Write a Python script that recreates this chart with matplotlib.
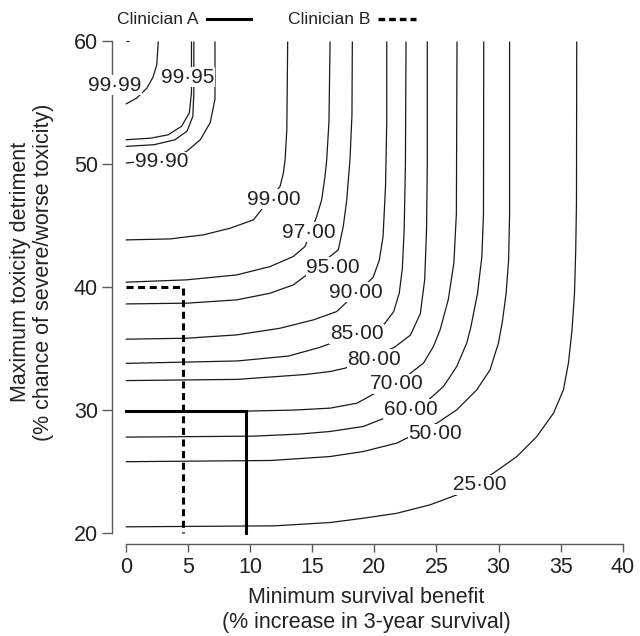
import matplotlib
matplotlib.use("Agg")
import matplotlib.pyplot as plt
from matplotlib.lines import Line2D

plt.rcParams["font.family"] = ["Liberation Sans", "DejaVu Sans"]

# contour lines (x = min survival benefit, y = max toxicity)
c2500_x = [0, 12, 16.44, 19.12, 21.8, 24.48, 26.63, 29.58, 31.46, 33.07, 34.41, 35.21, 35.61, 35.9, 36.1, 36.2, 36.26, 36.28]
c2500_y = [20.5, 20.58, 20.85, 21.2, 21.6, 22.29, 23.1, 24.87, 26.22, 27.85, 29.75, 31.65, 33.82, 36.5, 39.5, 43, 47, 60]
c5000_x = [0, 11.7, 16.44, 19.12, 21.8, 25.02, 26.63, 28.24, 29.31, 29.98, 30.3, 30.6, 30.8, 30.88, 30.88]
c5000_y = [25.8, 25.9, 26.22, 26.63, 27.31, 28.93, 30.02, 31.65, 33.28, 35.45, 37.2, 39.5, 42.2, 46, 60]
c6000_x = [0, 10.3, 14.0, 16.44, 19.12, 24.22, 25.56, 26.63, 27.43, 27.75, 28.3, 28.65, 28.78, 28.8]
c6000_y = [27.8, 27.88, 28.05, 28.26, 28.67, 30.7, 31.92, 33.55, 35.45, 36.7, 39.5, 42.5, 46, 60]
c7000_x = [0, 9.8, 13.5, 16.44, 18.6, 22.74, 23.95, 24.75, 25.29, 25.95, 26.4, 26.6, 26.65]
c7000_y = [29.86, 29.92, 30.0, 30.16, 30.56, 32.87, 33.82, 35.17, 36.53, 39.0, 42, 46, 60]
c8000_x = [0, 9, 14.5, 16.44, 17.65, 21.6, 22.9, 23.7, 24.05, 24.2, 24.26, 24.26]
c8000_y = [32.4, 32.5, 32.9, 33.14, 33.41, 35.1, 36.1, 37.85, 40.6, 44.7, 50, 60]
c8500_x = [0, 9, 13.1, 15.6, 20.8, 21.55, 22.0, 22.25, 22.4, 22.5, 22.55]
c8500_y = [33.8, 34.0, 34.4, 35.1, 37.0, 38.0, 39.5, 41.5, 44.7, 50, 60]
c9000_x = [0, 4.9, 8.93, 12.41, 15.09, 16.97, 19.9, 20.4, 20.7, 20.9, 21.0, 21.0]
c9000_y = [35.77, 35.85, 36.12, 36.66, 37.34, 38.02, 40.8, 42.2, 44.1, 48.2, 53.6, 60]
c9500_x = [0, 4.9, 8.93, 11.61, 13.48, 14.56, 17.1, 17.5, 17.78, 18.04, 18.2, 18.23]
c9500_y = [38.64, 38.7, 38.97, 39.51, 40.19, 41.0, 43.04, 44.94, 47.1, 50.36, 54, 60]
c9700_x = [0, 4.9, 8.93, 11.61, 13.48, 14.42, 15.36, 15.76, 16.03, 16.17, 16.35, 16.44]
c9700_y = [40.41, 40.6, 41.0, 41.68, 42.5, 43.31, 45.75, 47.1, 49.0, 50.36, 53.5, 60]
c9900_x = [0, 3.56, 6.25, 8.39, 10.27, 12.41, 12.68, 12.82, 12.96, 13.03]
c9900_y = [43.85, 43.93, 44.26, 44.8, 45.48, 48.19, 49.27, 50.36, 52.8, 60]
c9990_x = [0, 3.8, 4.9, 6.0, 6.8, 7.18, 7.18]
c9990_y = [50.1, 50.5, 51.06, 52.0, 53.4, 55.3, 60]
c9995a_x = [0, 2.0, 3.4, 4.5, 5.12, 5.29, 5.29]
c9995a_y = [52.0, 52.13, 52.4, 53.1, 54.2, 55.8, 60]
c9995b_x = [0, 2.3, 3.96, 4.93, 5.4, 5.48, 5.48]
c9995b_y = [51.46, 51.6, 52.0, 52.7, 53.9, 55.8, 60]
c9999_x = [0, 0.9, 1.7, 2.2, 2.5, 2.62]
c9999_y = [54.9, 55.4, 56.2, 57.1, 58.1, 60]
c9999_tip_x = [0.05, 0.3]
c9999_tip_y = [60, 60]

contours = [
    (c2500_x, c2500_y), (c5000_x, c5000_y), (c6000_x, c6000_y), (c7000_x, c7000_y),
    (c8000_x, c8000_y), (c8500_x, c8500_y), (c9000_x, c9000_y), (c9500_x, c9500_y),
    (c9700_x, c9700_y), (c9900_x, c9900_y), (c9990_x, c9990_y), (c9995a_x, c9995a_y),
    (c9995b_x, c9995b_y), (c9999_x, c9999_y), (c9999_tip_x, c9999_tip_y),
]

# inline contour labels
label_text = ["25·00", "50·00", "60·00", "70·00", "80·00", "85·00", "90·00",
              "95·00", "97·00", "99·00", "99·90", "99·95", "99·99"]
label_x = [28.5, 24.9, 22.93, 21.8, 19.98, 18.6, 18.55, 16.7, 14.69, 11.88, 2.9, 4.97, -0.86]
label_y = [23.92, 28.07, 30.07, 32.14, 34.14, 36.2, 39.6, 41.63, 44.47, 47.16, 50.2, 57.1, 56.45]

# clinician thresholds
clin_a_x = [0, 9.7, 9.7]
clin_a_y = [29.9, 29.9, 20]
clin_b_x = [0, 4.6, 4.6]
clin_b_y = [40.0, 40.0, 20]

x_ticks = [0, 5, 10, 15, 20, 25, 30, 35, 40]
y_ticks = [20, 30, 40, 50, 60]

txt = "#222222"
spine_c = "#5a5a5a"
dash = (0, (2.3, 1.5))

fig = plt.figure(figsize=(6.4, 6.36), dpi=100)
ax = fig.add_axes([0.1964, 0.162, 0.777, 0.7728])

for cx, cy in contours:
    ax.plot(cx, cy, color="#1a1a1a", lw=0.9, solid_capstyle="butt", solid_joinstyle="round",
            clip_on=False, zorder=2)

ax.plot(clin_a_x, clin_a_y, color="black", lw=2.2, solid_joinstyle="miter", clip_on=False, zorder=3)
ax.plot(clin_b_x, clin_b_y, color="black", lw=2.2, linestyle=dash, clip_on=False, zorder=3)

for t, lx, ly in zip(label_text, label_x, label_y):
    ax.text(lx, ly, t, ha="center", va="center", fontsize=15, color=txt, zorder=5, clip_on=False,
            bbox=dict(facecolor="white", edgecolor="none", pad=0.5))

ax.set_xlim(0, 40)
ax.set_ylim(20, 60)
ax.set_xticks(x_ticks)
ax.set_yticks(y_ticks)
for s in ["top", "right"]:
    ax.spines[s].set_visible(False)
ax.spines["left"].set_position(("outward", 10))
ax.spines["bottom"].set_position(("outward", 8))
ax.spines["left"].set_bounds(20, 60)
ax.spines["bottom"].set_bounds(0, 40)
for s in ["left", "bottom"]:
    ax.spines[s].set_color(spine_c)
    ax.spines[s].set_linewidth(1.0)
ax.tick_params(axis="y", length=7, width=1.0, color=spine_c, labelsize=15.5, labelcolor=txt, pad=3)
ax.tick_params(axis="x", length=5.5, width=1.0, color=spine_c, labelsize=15.5, labelcolor=txt, pad=4)

fig.text(366 / 640, 1 - 610 / 636, "Minimum survival benefit\n(% increase in 3-year survival)",
         ha="center", va="center", fontsize=15.5, color=txt, linespacing=1.25)
fig.text(32 / 640, 1 - 272 / 636, "Maximum toxicity detriment\n(% chance of severe/worse toxicity)",
         ha="center", va="center", rotation=90, fontsize=15.5, color=txt, linespacing=1.15)

# legend across the top
ly = 1 - 19 / 636
fig.text(116.7 / 640, ly, "Clinician A", ha="left", va="center", fontsize=12.6, color=txt)
fig.add_artist(Line2D([207 / 640, 251 / 640], [ly, ly], color="black", lw=2.2))
fig.text(288 / 640, ly, "Clinician B", ha="left", va="center", fontsize=12.6, color=txt)
fig.add_artist(Line2D([378 / 640, 416 / 640], [ly, ly], color="black", lw=2.4, linestyle=(0, (2.0, 1.2))))

fig.savefig("out.png", dpi=100)
